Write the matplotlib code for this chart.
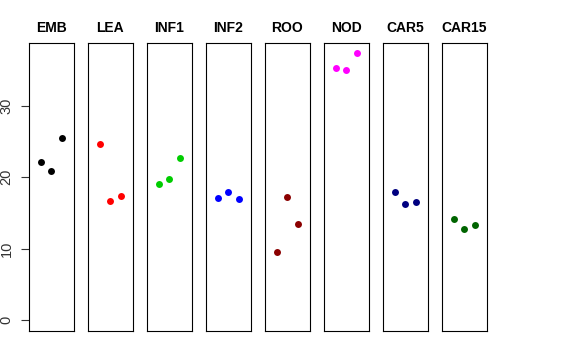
import matplotlib
matplotlib.use("Agg")
import matplotlib.pyplot as plt

plt.rcParams['font.family'] = ['Liberation Sans', 'DejaVu Sans']

categories = ["EMB", "LEA", "INF1", "INF2", "ROO", "NOD", "CAR5", "CAR15"]
colors = ["black", "red", "#00CD00", "blue", "#8B0000", "magenta", "#000080", "#006400"]
values = {
    "EMB": [22.1, 20.8, 25.5],
    "LEA": [24.6, 16.7, 17.4],
    "INF1": [19.0, 19.7, 22.7],
    "INF2": [17.1, 17.9, 17.0],
    "ROO": [9.5, 17.3, 13.4],
    "NOD": [35.3, 35.0, 37.3],
    "CAR5": [17.9, 16.3, 16.5],
    "CAR15": [14.2, 12.7, 13.3],
}
yticks = [0, 10, 20, 30]

W, H = 576, 360
fig = plt.figure(figsize=(W / 100, H / 100), dpi=100)

left0 = 29.0
step = 59.0
pw = 44.5
bottom_px = 331.0
top_px = 42.7

ymax = max(max(v) for v in values.values())
pad = 0.04 * ymax

for i, cat in enumerate(categories):
    l = (left0 + step * i) / W
    ax = fig.add_axes([l, (H - bottom_px) / H, pw / W, (bottom_px - top_px) / H])
    ys = values[cat]
    xs = list(range(1, len(ys) + 1))
    ax.plot(xs, ys, 'o', color=colors[i], markersize=5, markeredgewidth=0)
    ax.set_xlim(-0.16, 4.16)
    ax.set_ylim(-pad, ymax + pad)
    ax.set_xticks([])
    for s in ax.spines.values():
        s.set_linewidth(0.8)
        s.set_color('black')
    ax.set_title(cat, fontsize=10, fontweight='bold', pad=7.5)
    if i == 0:
        ax.set_yticks(yticks)
        ax.set_yticklabels([str(t) for t in yticks], rotation=90, va='center', fontsize=10.5, color='#333333')
        ax.tick_params(axis='y', length=6, width=0.8, pad=5, color='#333333')
    else:
        ax.set_yticks([])

fig.savefig("out.png", dpi=100)
